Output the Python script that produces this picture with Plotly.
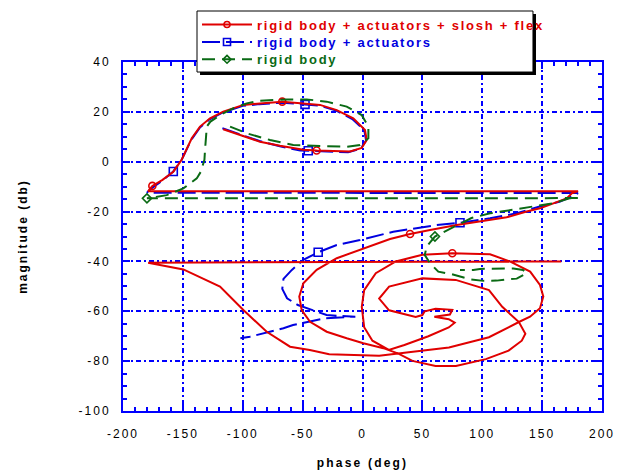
import plotly.graph_objects as go

FONT = "Liberation Sans, Arial, sans-serif"
BLUE_AXIS = "#0000ff"

# Nichols loci: phase (deg) against open-loop magnitude (dB)
RED_PHASE = [
    -116.3, -99.5, -85.6, -68.9, -49.4, -38.3, -24.0, -10.4, -0.7, 3.5,
    2.1, -7.7, -21.5, -35.5, -49.4, -67.0, -85.6, -99.5, -116.3, -127.3,
    -135.7, -142.6, -151.0, -158.0, -167.0, -175.5, -179.0,
    180.0, 174.8, 170.5, 148.2, 137.1, 120.4, 98.1, 78.7, 56.4, 39.7,
    23.0, -2.1, -21.5, -38.3, -49.4, -52.8, -50.8, -43.8, -29.9, -13.2,
    0.7, 17.4, 30.0, 41.7, 61.0, 78.0, 103.0, 122.0, 133.0, 136.0,
    130.6, 116.7, 105.6, 77.8, 50.0, 22.2, 13.9, 22.2, 44.4,
    50.0, 52.0, 61.0, 75.0, 73.0, 60.0, 72.0, 77.0, 72.0, 55.0, 35.0, 22.0,
    8.3, 1.4, -0.6, 1.4, 11.1, 27.8, 50.0, 75.0, 90.0, 106.5, 123.0,
    140.0, 148.2, 151.0, 148.2, 139.9, 130.6, 105.6, 72.2, 50.0, 13.9,
    -27.8, -44.0, -60.5, -80.0, -99.5, -119.0, -149.6, -179.0, 166.0,
]
RED_MAG = [
    13.0, 10.3, 8.0, 6.4, 4.8, 4.5, 4.2, 4.1, 5.5, 8.7,
    12.7, 17.4, 20.7, 22.8, 23.4, 24.1, 23.4, 22.8, 20.1, 17.4,
    14.1, 9.4, 0.8, -4.0, -7.3, -9.7, -11.8,
    -11.8, -12.7, -14.7, -18.7, -20.0, -22.3, -23.8, -25.4, -27.4, -29.0,
    -31.0, -35.4, -38.7, -43.4, -48.8, -54.1, -59.5, -64.2, -68.2, -70.8,
    -72.8, -74.8, -77.0, -79.9, -81.9, -81.9, -79.2, -75.8, -71.8, -69.0,
    -64.3, -58.2, -51.5, -47.4, -46.8, -50.1, -54.9, -59.6, -62.3,
    -61.5, -60.0, -59.0, -59.4, -61.3, -62.2, -63.2, -64.6, -66.5, -70.0, -73.5, -75.5,
    -71.8, -66.4, -58.2, -51.5, -44.7, -40.0, -37.3, -36.7, -36.9, -37.1, -40.0,
    -44.1, -49.4, -54.1, -58.8, -62.2, -64.3, -70.4, -74.5, -75.8, -77.8,
    -77.2, -75.5, -74.2, -68.2, -59.5, -50.1, -43.2, -40.5, -40.0,
]
RED_MARKS = [5, 15, 25, 36, 85]

BLUE_PHASE = [
    -117.0, -100.0, -86.0, -69.0, -52.0, -45.3, -30.0, -12.0, -1.5, 3.0,
    1.5, -8.5, -22.0, -36.0, -48.0, -67.0, -86.0, -100.0, -117.0, -128.0,
    -136.0, -143.0, -151.5, -158.0, -168.0, -176.0, -180.0,
    180.0, 176.0, 165.0, 148.0, 128.8, 106.5, 81.4, 62.0, 42.4, 25.7,
    -2.1, -21.5, -37.0, -49.4, -59.0, -66.0, -67.0, -63.0, -54.0, -45.0,
    -35.5, -30.0, -6.0, -31.0, -41.0, -58.0, -66.0, -77.3, -94.0, -102.0,
]
BLUE_MAG = [
    13.4, 10.7, 8.3, 6.2, 4.5, 4.4, 4.0, 3.8, 5.2, 8.5,
    12.6, 17.1, 20.5, 22.5, 23.0, 23.7, 23.1, 22.4, 19.7, 16.9,
    13.6, 8.8, 0.3, -3.9, -7.9, -10.6, -12.4,
    -12.6, -13.6, -16.0, -18.0, -20.7, -22.7, -24.5, -25.4, -26.7, -28.1,
    -31.4, -33.4, -36.3, -39.4, -43.4, -47.0, -51.0, -54.8, -57.5, -59.0,
    -60.5, -61.5, -62.2, -62.8, -63.8, -65.5, -66.8, -68.2, -70.2, -70.8,
]
BLUE_MARKS = [5, 14, 23, 33, 39]

GREEN_PHASE = [
    -110.6, -96.7, -77.2, -57.8, -35.5, -13.2, -2.1, 4.9, 4.9, -0.7,
    -13.2, -29.9, -46.6, -63.3, -85.6, -96.7, -108.0, -119.0, -127.0, -130.0,
    -131.5, -132.0, -135.0, -138.4, -149.6, -163.5, -180.0,
    180.0, 173.0, 159.0, 142.6, 123.0, 106.5, 91.0, 70.3, 60.5, 53.6,
    52.0, 56.4, 63.3, 74.5, 82.8, 90.0, 101.0, 112.0, 120.0, 128.8,
    137.0, 134.0, 126.0, 112.0, 98.0, 92.5, 81.4,
]
GREEN_MAG = [
    14.1, 11.4, 8.7, 6.7, 6.3, 6.0, 6.7, 9.4, 14.1, 18.7,
    22.1, 24.1, 25.0, 25.0, 24.5, 23.4, 21.4, 18.7, 16.1, 14.1,
    4.7, 0.8, -4.0, -6.7, -10.7, -13.4, -14.7,
    -14.6, -14.7, -16.7, -18.0, -19.4, -20.7, -22.6, -27.4, -30.0, -34.0,
    -37.4, -40.7, -44.1, -45.1, -46.1, -47.2, -47.8, -47.7, -47.2, -46.9,
    -44.7, -43.4, -42.8, -43.0, -43.0, -43.4, -43.4,
]
GREEN_MARKS = [26, 35]

X_TICKS = [-200, -150, -100, -50, 0, 50, 100, 150, 200]
X_TICK_TEXT = ["-200", "-150", "-100", "-50", "0", "50", "100", "150", "200"]
Y_TICKS = [-100, -80, -60, -40, -20, 0, 20, 40]
Y_TICK_TEXT = ["-100", "-80", "-60", "-40", "-20", "0", "20", "40"]

SERIES = [
    dict(name="rigid body + actuators + slosh + flex", color="#e00000",
         phase=RED_PHASE, mag=RED_MAG, marks=RED_MARKS,
         dash="solid", symbol="circle-open", size=7, legend="legend"),
    dict(name="rigid body + actuators", color="#0000e0",
         phase=BLUE_PHASE, mag=BLUE_MAG, marks=BLUE_MARKS,
         dash="18px,6px", symbol="square-open", size=8, legend="legend2"),
    dict(name="rigid body", color="#0a6a14",
         phase=GREEN_PHASE, mag=GREEN_MAG, marks=GREEN_MARKS,
         dash="13px,7px", symbol="diamond-open", size=7, legend="legend3"),
]


def spaced(text, px):
    return f"<span style='letter-spacing:{px}px'>{text}</span>"


fig = go.Figure()

# curves: blue underneath, red above it, green dashes on top
for s in [SERIES[1], SERIES[0], SERIES[2]]:
    fig.add_trace(go.Scatter(
        x=s["phase"], y=s["mag"], mode="lines",
        line=dict(color=s["color"], width=2, dash=s["dash"]),
        showlegend=False, hoverinfo="skip"))
    fig.add_trace(go.Scatter(
        x=[s["phase"][i] for i in s["marks"]],
        y=[s["mag"][i] for i in s["marks"]],
        mode="markers",
        marker=dict(symbol=s["symbol"], size=s["size"], color=s["color"],
                    line=dict(width=1.6, color=s["color"])),
        showlegend=False, hoverinfo="skip"))

# legend entries, one row per legend so the row pitch can be set
for s in SERIES:
    fig.add_trace(go.Scatter(
        x=[None], y=[None], mode="lines+markers",
        name=f"<b><span style='color:{s['color']};letter-spacing:1.75px'>{s['name']}</span></b>",
        line=dict(color=s["color"], width=2, dash=s["dash"]),
        marker=dict(symbol=s["symbol"], size=s["size"] - 1, color=s["color"],
                    line=dict(width=1.6, color=s["color"])),
        legend=s["legend"]))

axis_common = dict(
    showline=True, linecolor=BLUE_AXIS, linewidth=2, mirror="ticks",
    ticks="inside", ticklen=7, tickwidth=2, tickcolor=BLUE_AXIS,
    showgrid=True, gridcolor=BLUE_AXIS, gridwidth=1.5,
    griddash="5px,3px,2px,3px", zeroline=False, automargin=False,
    tickfont=dict(family=FONT, size=12, color="black"),
    tickmode="array",
)

fig.update_xaxes(
    range=[-200, 200], tickvals=X_TICKS,
    ticktext=[spaced(t, 2) for t in X_TICK_TEXT],
    minor=dict(dtick=10, tick0=-200, ticks="inside", ticklen=4, tickwidth=1.5,
               tickcolor=BLUE_AXIS, showgrid=False),
    ticklabelstandoff=11,
    title=dict(text="<b>" + spaced("phase (deg)", 2.2) + "</b>", standoff=18,
               font=dict(family=FONT, size=12, color="black")),
    **axis_common)
fig.update_yaxes(
    range=[-100, 40], tickvals=Y_TICKS,
    ticktext=[spaced(t, 2) for t in Y_TICK_TEXT],
    minor=dict(dtick=5, tick0=-100, ticks="inside", ticklen=4, tickwidth=1.5,
               tickcolor=BLUE_AXIS, showgrid=False),
    ticklabelstandoff=8,
    title=dict(text="<b>" + spaced("magnitude (db)", 2.0) + "</b>", standoff=48,
               font=dict(family=FONT, size=12, color="black")),
    **axis_common)

# legend frame with drop shadow
fig.add_shape(type="rect", xref="paper", yref="paper",
              x0=0.1608, x1=0.8622, y0=0.9628, y1=1.1375,
              fillcolor="black", line=dict(width=0), layer="above")
fig.add_shape(type="rect", xref="paper", yref="paper",
              x0=0.1545, x1=0.8559, y0=0.9713, y1=1.1461,
              fillcolor="white", line=dict(color="black", width=1), layer="above")

legend_common = dict(xanchor="left", yanchor="middle", x=0.1545,
                     bgcolor="rgba(0,0,0,0)", borderwidth=0,
                     font=dict(family=FONT, size=13), itemwidth=50)

fig.update_layout(
    width=628, height=473,
    margin=dict(l=123, r=26, t=62, b=62, autoexpand=False),
    paper_bgcolor="white", plot_bgcolor="white",
    font=dict(family=FONT, size=12, color="black"),
    legend=dict(y=1.1071, **legend_common),
    legend2=dict(y=1.0570, **legend_common),
    legend3=dict(y=1.0075, **legend_common),
)

fig.write_html("out.html")
